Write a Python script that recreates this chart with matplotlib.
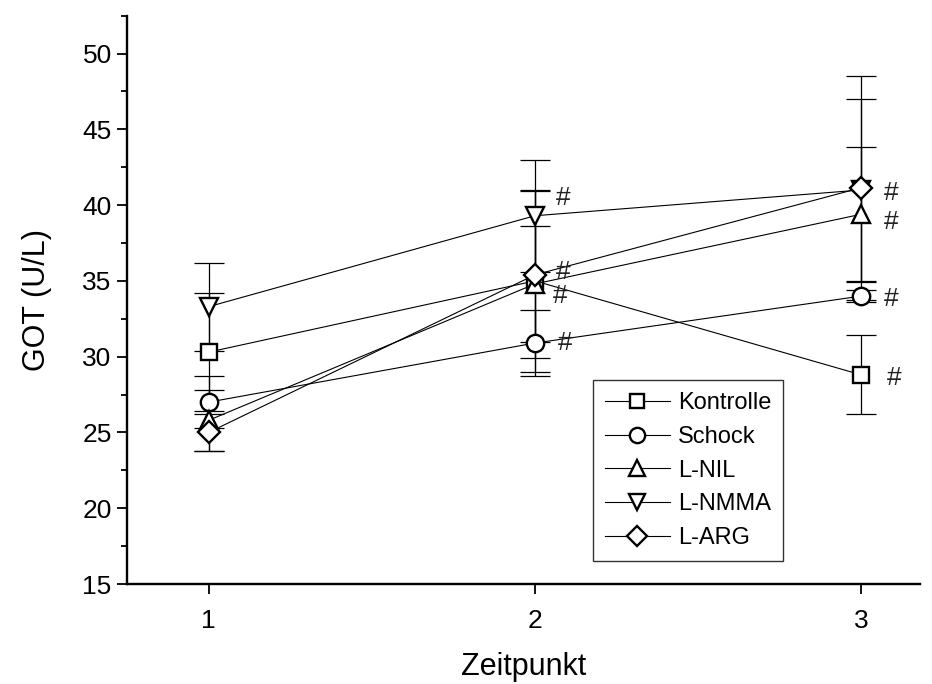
import matplotlib
matplotlib.use("Agg")
import matplotlib.pyplot as plt
from matplotlib.ticker import MultipleLocator

plt.rcParams['font.family'] = ['Liberation Sans', 'DejaVu Sans']

x = [1, 2, 3]
series = ["Kontrolle", "Schock", "L-NIL", "L-NMMA", "L-ARG"]
markers = ["s", "o", "^", "v", "D"]
kontrolle = [30.3, 35.0, 28.8]
kontrolle_err = [3.9, 6.0, 2.6]
schock = [27.0, 30.9, 34.0]
schock_err = [1.7, 2.2, 0.4]
l_nil = [25.8, 34.8, 39.4]
l_nil_err = [2.0, 3.8, 4.45]
l_nmma = [33.3, 39.3, 41.0]
l_nmma_err = [2.9, 3.7, 6.0]
l_arg = [25.0, 35.4, 41.15]
l_arg_err = [1.2, 5.5, 7.4]
values = [kontrolle, schock, l_nil, l_nmma, l_arg]
errors = [kontrolle_err, schock_err, l_nil_err, l_nmma_err, l_arg_err]
marker_sizes = [11.5, 12.5, 13, 13, 11.5]

# significance marks: (x, y, offset_x_px, offset_y_px (down positive))
hash_marks = [(2, 39.3, 28, -18), (2, 35.4, 28, -3), (2, 34.8, 25, 12),
              (2, 30.9, 30, 0), (3, 41.15, 30, 5), (3, 39.4, 30, 8),
              (3, 34.0, 30, 3), (3, 28.8, 33, 3)]

fig = plt.figure(figsize=(9.32, 6.84), dpi=100)
ax = fig.add_axes([127/932, 1-584/684, (920-127)/932, (584-15.7)/684])

for name, m, v, e, ms in zip(series, markers, values, errors, marker_sizes):
    ax.errorbar(x, v, yerr=e, fmt='none', ecolor='black', elinewidth=0.9,
                capsize=11, capthick=0.9, zorder=2)
    ax.plot(x, v, color='black', linewidth=0.8, marker=m, markersize=ms,
            markerfacecolor='white', markeredgecolor='black', markeredgewidth=1.7,
            label=name, zorder=3)

for hx, hy, dx, dy in hash_marks:
    ax.annotate('#', xy=(hx, hy), xytext=(dx * 0.72, -dy * 0.72), textcoords='offset points',
                ha='center', va='center', fontsize=19, color='#222222')

ax.set_xlim(0.75, 3.18)
ax.set_ylim(15, 52.5)
ax.set_xticks([1, 2, 3])
ax.yaxis.set_major_locator(MultipleLocator(5))
ax.yaxis.set_minor_locator(MultipleLocator(2.5))
ax.tick_params(axis='both', which='major', direction='out', length=7, width=1.3,
               labelsize=19)
ax.tick_params(axis='y', which='minor', direction='out', length=4, width=1.3)
ax.tick_params(axis='x', which='major', pad=11)
ax.tick_params(axis='y', which='major', pad=4)
for s in ['top', 'right']:
    ax.spines[s].set_visible(False)
for s in ['left', 'bottom']:
    ax.spines[s].set_linewidth(1.7)

ax.set_xlabel('Zeitpunkt', fontsize=22, labelpad=14)
ax.set_ylabel('GOT (U/L)', fontsize=22, labelpad=22)

leg = ax.legend(loc='lower left', bbox_to_anchor=((593-127)/793, (584-561)/568.3),
                frameon=True, fancybox=False, edgecolor='black', fontsize=17,
                handlelength=2.75, handletextpad=0.35, labelspacing=0.5,
                borderpad=0.5, borderaxespad=0, markerscale=0.88)
leg.get_frame().set_linewidth(1.0)

fig.savefig('out.png', dpi=100)
